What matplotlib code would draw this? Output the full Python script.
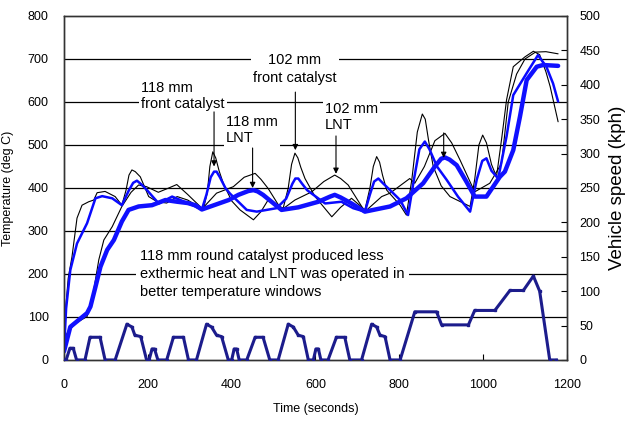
import numpy as np
import matplotlib
matplotlib.use('Agg')
import matplotlib.pyplot as plt

plt.rcParams['font.family'] = ['Liberation Sans', 'DejaVu Sans']

# 102 mm front catalyst (thin black)
t_fc102 = [0, 4, 10, 19, 31, 43, 59, 71, 79, 98, 122, 138, 148, 155, 162, 170, 182, 202, 222, 245, 270, 295,
           315, 332, 342, 348, 355, 362, 370, 380, 400, 420, 452, 470, 487, 505, 523, 535, 543, 551, 558,
           565, 575, 599, 639, 660, 686, 705, 718, 730, 738, 746, 753, 760, 770, 802, 817, 830, 843, 855,
           862, 870, 881, 900, 921, 969, 980, 990, 999, 1008, 1020, 1032, 1045, 1056, 1072, 1100, 1120,
           1135, 1150, 1160, 1179]
T_fc102 = [35, 120, 190, 240, 330, 360, 368, 372, 389, 392, 380, 360, 395, 430, 442, 438, 426, 380, 368, 365, 380, 372,
           360, 349, 390, 450, 484, 470, 440, 411, 370, 349, 326, 345, 372, 362, 353, 400, 455, 481, 470,
           448, 422, 380, 333, 355, 376, 360, 349, 400, 450, 473, 460, 430, 395, 360, 337, 420, 530, 572,
           560, 510, 450, 405, 380, 357, 420, 500, 523, 505, 455, 426, 520, 605, 682, 705, 718,
           710, 670, 636, 554]

# 102 mm LNT (thin black)
t_lnt102 = [0, 7, 27, 55, 67, 83, 95, 115, 138, 160, 178, 197, 225, 250, 269, 295, 330, 364, 404, 430, 456,
            470, 487, 519, 551, 591, 620, 646, 660, 678, 718, 758, 778, 825, 837, 860, 885, 909, 925, 945,
            980, 1016, 1044, 1060, 1080, 1100, 1125, 1150, 1179]
T_lnt102 = [30, 62, 85, 101, 140, 233, 279, 310, 357, 390, 407, 403, 390, 400, 408, 385, 352, 388, 403, 425, 434,
            420, 399, 349, 372, 391, 415, 430, 422, 407, 345, 380, 388, 422, 411, 450, 510, 527, 505, 465,
            391, 411, 457, 600, 665, 700, 716, 717, 712]

# 118 mm front catalyst (blue)
t_fc118 = [0, 5, 15, 31, 55, 75, 91, 115, 138, 155, 165, 174, 185, 198, 226, 258, 297, 329, 340, 350, 358,
           364, 372, 385, 396, 436, 460, 507, 530, 545, 552, 559, 568, 580, 591, 623, 662, 690, 718, 730,
           740, 750, 760, 778, 802, 821, 835, 848, 861, 872, 890, 913, 940, 969, 985, 998, 1008, 1020,
           1036, 1056, 1072, 1104, 1131, 1151, 1167, 1179]
T_fc118 = [23, 120, 209, 271, 318, 376, 381, 376, 360, 395, 412, 417, 408, 395, 364, 380, 364, 350, 385, 425, 438,
           438, 425, 400, 387, 349, 345, 353, 375, 410, 422, 422, 410, 395, 387, 364, 368, 353, 345, 385,
           415, 422, 412, 395, 372, 337, 420, 490, 508, 490, 450, 419, 380, 345, 420, 463, 469, 440,
           422, 520, 616, 667, 709, 682, 643, 601]

# 118 mm LNT (thick blue)
t_lnt118 = [0, 15, 35, 55, 63, 75, 87, 103, 119, 138, 154, 178, 210, 242, 270, 295, 313, 329, 393, 416, 440,
            452, 462, 475, 519, 559, 607, 635, 646, 660, 686, 718, 758, 778, 817, 857, 885, 900, 909, 920,
            937, 960, 980, 1008, 1040, 1052, 1072, 1088, 1104, 1128, 1143, 1179]
T_lnt118 = [20, 77, 93, 109, 124, 170, 217, 256, 279, 322, 349, 357, 360, 372, 368, 365, 360, 350, 372, 384, 393,
            395, 392, 384, 349, 355, 368, 380, 384, 378, 364, 345, 353, 357, 376, 411, 450, 468, 471, 466,
            453, 415, 380, 380, 426, 438, 488, 566, 651, 682, 686, 684]

# vehicle speed (kph)
t_spd = [0, 5, 14, 22, 30, 50, 62, 86, 98, 122, 150, 162, 169, 183, 197, 203, 210, 216, 224, 245, 261, 285,
         297, 316, 340, 352, 364, 376, 392, 400, 406, 412, 418, 436, 456, 475, 491, 511, 535, 547, 559, 571,
         583, 595, 601, 607, 613, 630, 650, 670, 682, 710, 734, 746, 754, 766, 778, 802, 837, 889, 901, 965,
         980, 1028, 1064, 1096, 1120, 1135, 1159, 1175]
v_spd = [0, 0, 17, 17, 0, 0, 33, 33, 0, 0, 52, 48, 36, 34, 0, 0, 16, 16, 0, 0, 33, 33,
         0, 0, 52, 48, 36, 34, 0, 0, 16, 16, 0, 0, 33, 33, 0, 0, 52, 48, 36, 34,
         0, 0, 16, 16, 0, 0, 33, 33, 0, 0, 52, 48, 36, 34, 0, 0, 70, 70, 51, 51,
         72, 72, 101, 101, 122, 100, 0, 0]

fig = plt.figure(figsize=(6.32, 4.23), dpi=100)
ax = fig.add_axes([0.1013, 0.149, 0.7957, 0.8132])
ax2 = ax.twinx()

for y in range(100, 800, 100):
    ax.axhline(y, color='black', lw=0.9, zorder=1)

kw = dict(solid_joinstyle='round', solid_capstyle='round', zorder=3)
ax.plot(t_fc102, T_fc102, color='black', lw=0.8, **kw)
ax.plot(t_lnt102, T_lnt102, color='black', lw=0.8, **kw)
ax.plot(t_fc118, T_fc118, color='#0a0aff', lw=1.8, **kw)
ax.plot(t_lnt118, T_lnt118, color='#1010ff', lw=3.2, **kw)

ax2.plot(t_spd, v_spd, color='#1c1c8c', lw=2.2, marker='s', ms=2, solid_joinstyle='round', zorder=3)

ax.set_xlim(0, 1200)
ax.set_ylim(0, 800)
ax2.set_ylim(0, 500)
ax.set_xticks(range(0, 1201, 200))
ax.set_yticks(range(0, 801, 100))
ax2.set_yticks(range(0, 501, 50))

ax.tick_params(axis='x', direction='in', length=4, pad=14, labelsize=9)
ax.tick_params(axis='y', direction='in', length=0, pad=11, labelsize=9)
ax2.tick_params(axis='y', direction='in', length=4, pad=9, labelsize=9)
for a in (ax, ax2):
    for s in a.spines.values():
        s.set_color('#333333')
        s.set_linewidth(1.0)

ax.set_xlabel('Time (seconds)', fontsize=9, labelpad=8)
ax.set_ylabel('Temperature (deg C)', fontsize=9, labelpad=10)
ax2.set_ylabel('Vehicle speed (kph)', fontsize=13.5,
               family=['Liberation Sans Narrow', 'Liberation Sans', 'DejaVu Sans'], labelpad=6)

box = dict(facecolor='white', edgecolor='none', pad=1.5)
fs = 10.5
ax.text(551, 677, '102 mm\nfront catalyst', ha='center', va='center', fontsize=fs,
        linespacing=1.35, bbox=box, zorder=6)
ax.text(184, 614, '118 mm\nfront catalyst', ha='left', va='center', fontsize=fs,
        linespacing=1.2, bbox=box, zorder=6)
ax.text(386, 535, '118 mm\nLNT', ha='left', va='center', fontsize=fs,
        linespacing=1.2, bbox=box, zorder=6)
ax.text(623, 565, '102 mm\nLNT', ha='left', va='center', fontsize=fs,
        linespacing=1.2, bbox=box, zorder=6)
ax.text(181, 200, '118 mm round catalyst produced less\nexthermic heat and LNT was operated in\n'
        'better temperature windows', ha='left', va='center', fontsize=fs,
        linespacing=1.4, bbox=dict(facecolor='white', edgecolor='none', pad=3), zorder=6)

arrows = [(358, 577, 450), (552, 623, 488), (450, 493, 400), (649, 521, 433), (906, 528, 470)]
for xa, y0, y1 in arrows:
    ax.annotate('', xy=(xa, y1), xytext=(xa, y0),
                arrowprops=dict(arrowstyle='-|>', color='black', lw=0.8, mutation_scale=8,
                                shrinkA=0, shrinkB=0), zorder=7)

fig.savefig('out.png', dpi=100)
